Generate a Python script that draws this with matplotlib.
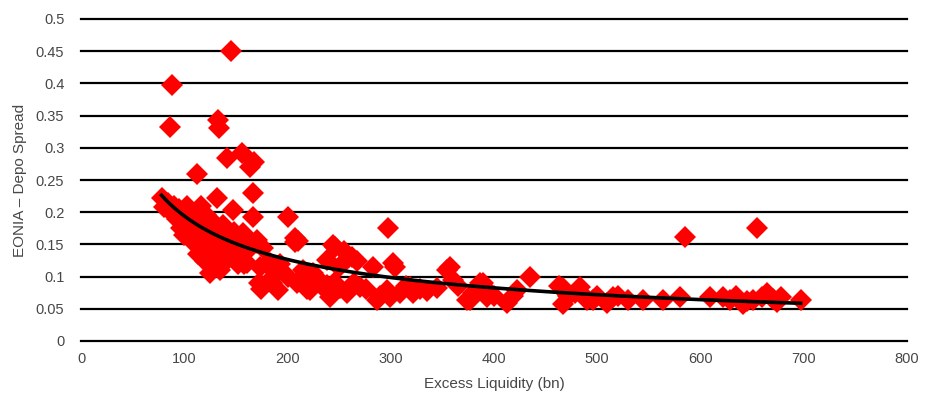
import matplotlib
matplotlib.use("Agg")
import matplotlib.pyplot as plt
import numpy as np
from matplotlib.ticker import FuncFormatter, MultipleLocator

plt.rcParams['font.family'] = ['Liberation Sans', 'DejaVu Sans']

# excess liquidity (bn) and EONIA - depo spread
liquidity = [
    78, 80, 84, 87, 90, 93, 95, 97, 100, 100, 103, 105, 107, 108, 110, 112, 113, 115,
    116, 118, 119, 120, 121, 123, 125, 126, 127, 128, 130, 131, 133, 135, 136, 138,
    140, 141, 143, 146, 148, 150, 152, 154, 157, 158, 161, 163, 167, 170, 173, 176,
    180, 183, 186, 190, 193,
    172, 174, 185, 191, 200, 209, 212, 219, 222, 228, 233, 238, 241, 245, 251, 258,
    264, 270, 276, 283, 287, 290, 296, 299, 302, 304, 309, 315, 319, 322, 328, 335, 345,
    200, 207, 210, 238, 244, 246, 255, 260, 262, 267, 215, 225, 250, 161, 170, 207,
    145, 88, 86, 133, 134, 141, 156, 164, 168, 112, 167, 132, 147, 167, 297,
    354, 357, 360, 365, 374, 377, 380, 386, 389, 393, 396, 400, 413, 418, 422, 435,
    463, 467, 467, 472, 478, 483, 487, 490, 496, 500, 509, 515, 520, 530, 544, 564,
    580, 585, 609, 622, 629, 634, 641, 645, 651, 655, 660, 664, 670, 674, 678, 697,
]
spread = [
    0.222, 0.208, 0.215, 0.200, 0.210, 0.190, 0.205, 0.175, 0.165, 0.195, 0.210, 0.180,
    0.200, 0.160, 0.150, 0.190, 0.135, 0.175, 0.210, 0.160, 0.145, 0.125, 0.195, 0.170,
    0.105, 0.140, 0.155, 0.185, 0.120, 0.165, 0.135, 0.110, 0.150, 0.180, 0.125, 0.160,
    0.140, 0.130, 0.170, 0.145, 0.120, 0.160, 0.168, 0.120, 0.140, 0.155, 0.150, 0.157,
    0.115, 0.145, 0.120, 0.121, 0.100, 0.115, 0.120,
    0.090, 0.080, 0.090, 0.079, 0.100, 0.090, 0.095, 0.080, 0.079, 0.100, 0.085, 0.087,
    0.068, 0.090, 0.082, 0.074, 0.090, 0.084, 0.080, 0.115, 0.064, 0.070, 0.079, 0.068,
    0.121, 0.115, 0.075, 0.085, 0.084, 0.075, 0.080, 0.077, 0.082,
    0.193, 0.160, 0.155, 0.126, 0.149, 0.146, 0.140, 0.131, 0.130, 0.125, 0.110, 0.105,
    0.115, 0.121, 0.152, 0.154,
    0.450, 0.397, 0.332, 0.343, 0.330, 0.284, 0.292, 0.270, 0.278, 0.260, 0.230, 0.222,
    0.203, 0.193, 0.175,
    0.110, 0.115, 0.095, 0.085, 0.064, 0.064, 0.075, 0.090, 0.090, 0.068, 0.075, 0.070,
    0.059, 0.070, 0.079, 0.100,
    0.085, 0.082, 0.058, 0.070, 0.075, 0.084, 0.070, 0.064, 0.064, 0.070, 0.059, 0.068,
    0.070, 0.064, 0.064, 0.064,
    0.068, 0.162, 0.068, 0.068, 0.064, 0.070, 0.057, 0.062, 0.064, 0.175, 0.068, 0.075,
    0.065, 0.060, 0.068, 0.064,
]

x = np.array(liquidity, dtype=float)
y = np.array(spread, dtype=float)

# power trendline y = a * x^b, fitted in log space like the spreadsheet does
b, log_a = np.polyfit(np.log(x), np.log(y), 1)
xs = np.linspace(x.min(), x.max(), 200)
ys = np.exp(log_a) * xs ** b

fig = plt.figure(figsize=(9.34, 4.0), dpi=100)
ax = fig.add_axes([81 / 934, 1 - 341 / 400, 826 / 934, 322 / 400])

ax.plot(x, y, linestyle='none', marker='D', markersize=11.5,
        color='#ff0000', markeredgewidth=0, zorder=3)
ax.plot(xs, ys, color='black', linewidth=2.6, zorder=4)

ax.set_xlim(0, 800)
ax.set_ylim(0, 0.5)
ax.xaxis.set_major_locator(MultipleLocator(100))
ax.yaxis.set_major_locator(MultipleLocator(0.05))
ax.yaxis.set_major_formatter(FuncFormatter(lambda v, p: '%g' % round(v, 2)))

ax.grid(axis='y', color='black', linewidth=1.6)
ax.set_axisbelow(True)
for gl in ax.yaxis.get_gridlines():
    gl.set_clip_on(False)

for s in ax.spines.values():
    s.set_visible(False)

ax.tick_params(axis='both', length=0, labelsize=10.5, labelcolor='#474747')
ax.tick_params(axis='y', pad=12)
ax.tick_params(axis='x', pad=8)

ax.set_xlabel('Excess Liquidity (bn)', fontsize=11, color='#474747', labelpad=8)
ax.set_ylabel('EONIA \u2013 Depo Spread', fontsize=11, color='#474747', labelpad=6)

fig.savefig('out.png', dpi=100)
